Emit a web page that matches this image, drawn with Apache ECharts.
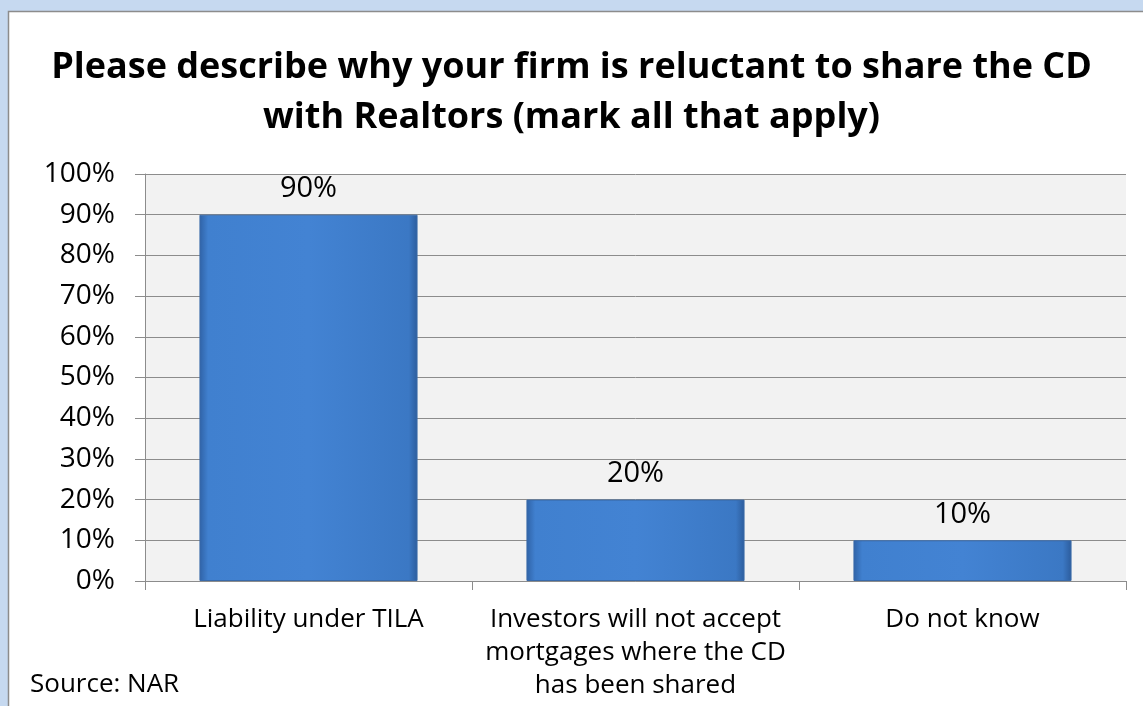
<!DOCTYPE html>
<html>
<head>
<meta charset="utf-8">
<script src="https://cdn.jsdelivr.net/npm/echarts@6/dist/echarts.min.js"></script>
<style>
html,body{margin:0;padding:0;background:#c6d9f0;}
#c{width:1143px;height:706px;}
</style>
</head>
<body>
<div id="c"></div>
<script>
const titleLines = ['Please describe why your firm is reluctant to share the CD', 'with Realtors (mark all that apply)'];
const categories = ['Liability under TILA', 'Investors will not accept\nmortgages where the CD\nhas been shared', 'Do not know'];
const values = [90, 20, 10];
const yTicks = [0, 10, 20, 30, 40, 50, 60, 70, 80, 90, 100];
const sourceText = 'Source: NAR';

const FONT = '"Open Sans", "Noto Sans", sans-serif';
const chart = echarts.init(document.getElementById('c'));
chart.setOption({
  backgroundColor: '#c6d9f0',
  animation: false,
  graphic: [
    { type: 'rect', z: -10, shape: { x: 8.5, y: 11.5, width: 1160, height: 720 },
      style: { fill: '#ffffff', stroke: '#8c8c8c', lineWidth: 1.5 } },
    { type: 'text', left: 30, top: 672, style: { text: sourceText, font: '26px ' + FONT, fill: '#000' } }
  ],
  title: {
    text: titleLines.join('\n'),
    left: 'center',
    top: 38,
    textStyle: { fontFamily: FONT, fontWeight: 'bold', fontSize: 36, lineHeight: 50, color: '#000' }
  },
  grid: { left: 145, right: 17, top: 174, bottom: 125, show: true, backgroundColor: '#f2f2f2', borderWidth: 0 },
  xAxis: {
    type: 'category',
    data: categories,
    axisLine: { show: true, lineStyle: { color: '#8c8c8c', width: 1 } },
    axisTick: { show: true, length: 9, lineStyle: { color: '#8c8c8c' } },
    axisLabel: { color: '#000', fontFamily: FONT, fontSize: 26, lineHeight: 33, margin: 22, interval: 0 }
  },
  yAxis: {
    type: 'value',
    min: 0, max: 100, interval: 10,
    axisLine: { show: true, lineStyle: { color: '#8c8c8c', width: 1 } },
    axisTick: { show: true, length: 10, lineStyle: { color: '#8c8c8c' } },
    axisLabel: { color: '#000', fontFamily: FONT, fontSize: 28, margin: 30,
      formatter: v => yTicks.includes(v) ? v + '%' : '' },
    splitLine: { show: true, lineStyle: { color: '#8c8c8c', width: 1 } }
  },
  series: [{
    type: 'bar',
    data: values,
    barWidth: '66.7%',
    itemStyle: {
      color: new echarts.graphic.LinearGradient(0, 0, 1, 0, [
        { offset: 0, color: '#2f62a6' },
        { offset: 0.04, color: '#4080cf' },
        { offset: 0.5, color: '#4383d3' },
        { offset: 0.96, color: '#3b78c4' },
        { offset: 1, color: '#2c5c9c' }
      ]),
      borderColor: '#3a6aa8',
      borderWidth: 1
    },
    label: {
      show: true, position: 'top', distance: 11,
      formatter: p => p.value + '%',
      color: '#000', fontFamily: FONT, fontSize: 29
    }
  }]
});
</script>
</body>
</html>
